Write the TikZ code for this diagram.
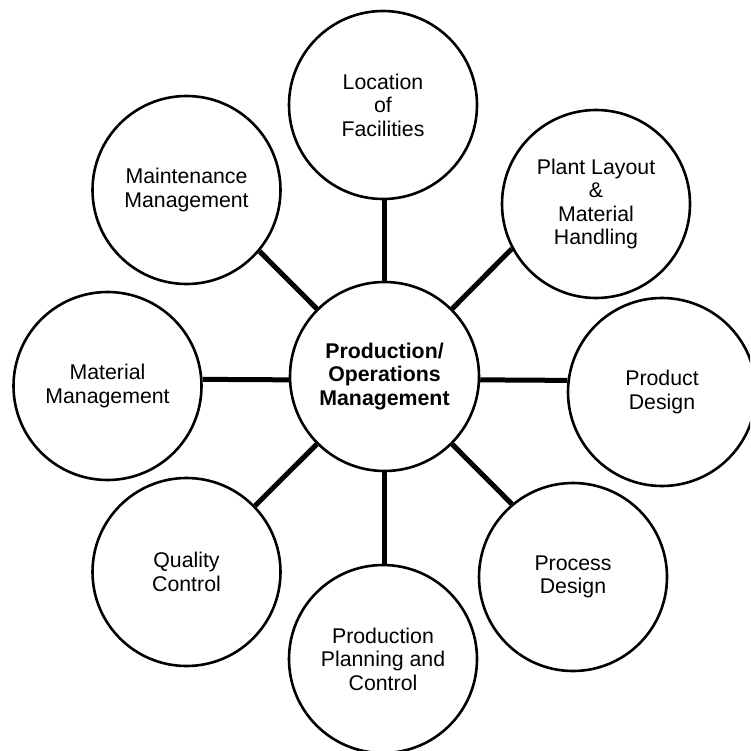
\documentclass[tikz,border=0pt]{standalone}
\usepackage{fontspec}
\setmainfont{Liberation Sans}
\begin{document}
\begin{tikzpicture}[x=1pt,y=-1pt,
  topic/.style={circle,draw=black,line width=2.6pt,fill=white,inner sep=0pt,
    minimum size=188pt,align=center,font=\fontsize{21.3}{23.5}\selectfont},
  hub/.style={topic,minimum size=189pt,font=\fontsize{21.3}{23.8}\selectfont\bfseries},
  conn/.style={draw=black,line width=5pt}]
\useasboundingbox[fill=white] (0,0) rectangle (750,751);
\clip (0,0) rectangle (750,751);
\node[hub] (c) at (384.5,376.5) {Production/\\Operations\\Management};
\node[topic] (loc) at (383,105) {Location\\of\\Facilities};
\node[topic] (plant) at (596,204) {Plant Layout\\\&\\Material\\Handling};
\node[topic] (prod) at (662,392) {Product\\Design};
\node[topic] (proc) at (573,577) {Process\\Design};
\node[topic] (ppc) at (383,659) {Production\\Planning and\\Control};
\node[topic] (qc) at (186.5,572) {Quality\\Control};
\node[topic] (mat) at (107.5,386) {Material\\Management};
\node[topic] (maint) at (186.5,190) {Maintenance\\Management};
\draw[conn] (c.north) -- (c.north |- loc.south);
\draw[conn] (c.45) -- (plant.208);
\draw[conn] (c.-2) -- (prod.173);
\draw[conn] (c.-45) -- (proc.130);
\draw[conn] (c.south) -- (c.south |- ppc.north);
\draw[conn] (c.225) -- (qc.44);
\draw[conn] (c.182) -- (mat.4);
\draw[conn] (c.135) -- (maint.-40);
\end{tikzpicture}
\end{document}
